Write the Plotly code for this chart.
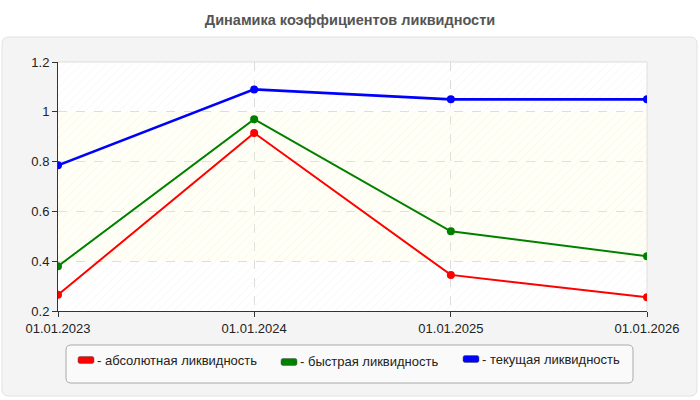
import plotly.graph_objects as go

# ---- data ----
dates = ["2023-01-01", "2024-01-01", "2025-01-01", "2026-01-01"]
tick_labels = ["01.01.2023", "01.01.2024", "01.01.2025", "01.01.2026"]
absolute = [0.265, 0.915, 0.345, 0.255]
quick = [0.38, 0.97, 0.52, 0.42]
current = [0.785, 1.09, 1.05, 1.05]
series_names = ["- абсолютная ликвидность", "- быстрая ликвидность", "- текущая ликвидность"]
series_colors = ["#ff0000", "#008000", "#0000ff"]
y_range = [0.2, 1.2]
norm_band = [0.4, 1.0]
y_ticks = [0.2, 0.4, 0.6, 0.8, 1.0, 1.2]
y_tick_text = ["0.2", "0.4", "0.6", "0.8", "1", "1.2"]

W, H = 700, 400
ML, MR, MT, MB = 58, 53, 62, 89
PW, PH = W - ML - MR, H - MT - MB


def X(px):
    return (px - ML) / PW


def Y(py):
    return (H - MB - py) / PH


def rrect(x0, y0, x1, y1, r):
    # pixel coords -> paper path with rounded corners
    rx, ry = r / PW, r / PH
    a0, a1 = X(x0), X(x1)
    b0, b1 = Y(y1), Y(y0)
    return (f"M{a0+rx},{b0} L{a1-rx},{b0} Q{a1},{b0} {a1},{b0+ry} "
            f"L{a1},{b1-ry} Q{a1},{b1} {a1-rx},{b1} L{a0+rx},{b1} "
            f"Q{a0},{b1} {a0},{b1-ry} L{a0},{b0+ry} Q{a0},{b0} {a0+rx},{b0} Z")


fig = go.Figure()

# pale band for the normative range
fig.add_trace(go.Scatter(
    x=[dates[0], dates[-1], dates[-1], dates[0], dates[0]],
    y=[norm_band[0], norm_band[0], norm_band[1], norm_band[1], norm_band[0]],
    mode="lines", line=dict(width=0), fill="toself", fillcolor="rgba(255,255,190,0.16)",
    hoverinfo="skip", showlegend=False))
# hatched overlay on whole plot area (transparent so grid shows through)
fig.add_trace(go.Scatter(
    x=[dates[0], dates[-1], dates[-1], dates[0], dates[0]],
    y=[y_range[0], y_range[0], y_range[1], y_range[1], y_range[0]],
    mode="lines", line=dict(width=0), fill="toself", fillcolor="rgba(0,0,0,0)",
    fillpattern=dict(shape="/", bgcolor="rgba(0,0,0,0)", fgcolor="#e6e6e6", size=6, solidity=0.12),
    hoverinfo="skip", showlegend=False))

widths = [2, 2, 2.6]
for vals, name, col, w in zip([absolute, quick, current], series_names, series_colors, widths):
    fig.add_trace(go.Scatter(
        x=dates, y=vals, name=name, mode="lines+markers",
        line=dict(color=col, width=w), marker=dict(color=col, size=8),
        showlegend=False))

shapes = []
shapes.append(dict(type="path", xref="paper", yref="paper", layer="below",
                   path=rrect(2, 37, 697, 396, 7), fillcolor="#f4f4f4",
                   line=dict(color="#e2e2e2", width=1)))
shapes.append(dict(type="rect", xref="paper", yref="paper", layer="below",
                   x0=0, x1=1, y0=0, y1=1, fillcolor="#ffffff", line=dict(width=0)))
shapes.append(dict(type="line", xref="paper", yref="paper", x0=0, x1=1, y0=1, y1=1,
                   line=dict(color="#dddddd", width=1), layer="below"))
shapes.append(dict(type="line", xref="paper", yref="paper", x0=1, x1=1, y0=0, y1=1,
                   line=dict(color="#dddddd", width=1), layer="below"))
shapes.append(dict(type="path", xref="paper", yref="paper",
                   path=rrect(66, 345, 633, 383, 5), fillcolor="#fafafa",
                   line=dict(color="#aaaaaa", width=1)))

legend_pos = [(78, 360), (281, 362), (463, 359)]
annotations = []
for (lx, ly), name, col in zip(legend_pos, series_names, series_colors):
    shapes.append(dict(type="path", xref="paper", yref="paper",
                       path=rrect(lx, ly - 3.5, lx + 16, ly + 3.5, 2), fillcolor=col,
                       line=dict(color="#555555", width=0.5)))
    annotations.append(dict(xref="paper", yref="paper", x=X(lx + 17), y=Y(ly),
                            text=name, showarrow=False, xanchor="left", yanchor="middle",
                            font=dict(family="Liberation Sans, Arial, sans-serif", size=13, color="#222222")))

fig.update_layout(
    width=W, height=H,
    margin=dict(l=ML, r=MR, t=MT, b=MB),
    paper_bgcolor="#ffffff", plot_bgcolor="#ffffff",
    title=dict(text="<b>Динамика коэффициентов ликвидности</b>", x=X(W / 2), xref="paper",
               xanchor="center", y=1 - 20 / H, yanchor="middle",
               font=dict(family="Liberation Sans, Arial, sans-serif", size=14.5, color="#555555")),
    shapes=shapes, annotations=annotations,
    font=dict(family="Liberation Sans, Arial, sans-serif", size=13, color="#222222"),
    hovermode="closest",
)
fig.update_xaxes(type="date", range=[dates[0], dates[-1]], tickvals=dates, ticktext=tick_labels,
                 showline=True, linecolor="#333333", linewidth=1,
                 ticks="outside", ticklen=5, tickcolor="#333333",
                 showgrid=True, gridcolor="#dcdcdc", griddash="dash", gridwidth=1,
                 zeroline=False, tickfont=dict(size=13, color="#222222"))
fig.update_yaxes(range=y_range, tickvals=y_ticks, ticktext=y_tick_text,
                 showline=True, linecolor="#333333", linewidth=1,
                 ticks="outside", ticklen=5, tickcolor="#333333",
                 showgrid=True, gridcolor="#dcdcdc", griddash="dash", gridwidth=1,
                 zeroline=False, tickfont=dict(size=13, color="#222222"))

fig.write_html("out.html")
